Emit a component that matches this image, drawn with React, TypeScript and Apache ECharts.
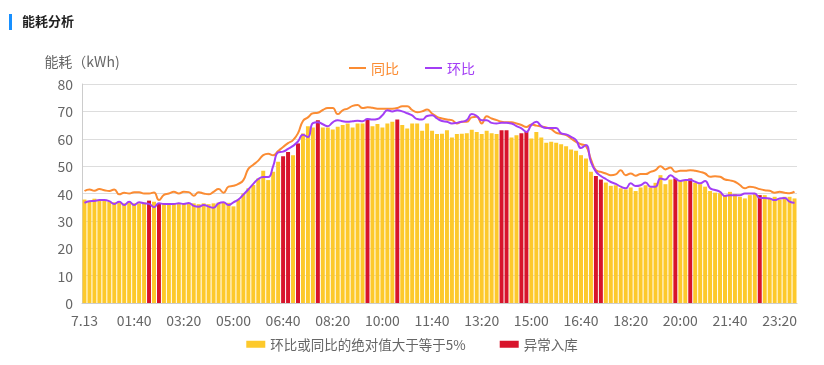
import React, { useEffect, useRef } from "react";
import * as echarts from "echarts";

const dateLabel = "7.13";
const categories: string[] = [];
for (let m = 0; m < 24 * 60; m += 10) {
  const h = String(Math.floor(m / 60)).padStart(2, "0");
  const mm = String(m % 60).padStart(2, "0");
  categories.push(m === 0 ? dateLabel : `${h}:${mm}`);
}

const energy = [
  37.8, 37.3, 38.1, 37.3, 37.3, 37.0, 36.8, 36.7, 36.4, 36.7,
  36.4, 36.4, 36.7, 37.4, 37.0, 36.5, 36.4, 36.4, 36.4, 36.4,
  36.4, 36.4, 36.4, 36.1, 36.4, 36.1, 36.4, 36.7, 36.7, 36.6,
  35.3, 37.8, 40.0, 41.9, 43.1, 45.5, 48.3, 44.9, 47.9, 51.6,
  53.6, 55.2, 54.0, 58.3, 61.9, 64.6, 64.1, 66.8, 64.1, 64.1,
  63.4, 64.4, 65.0, 65.6, 64.1, 65.6, 65.6, 67.0, 64.6, 65.4,
  64.1, 65.6, 66.2, 67.0, 65.0, 63.7, 65.6, 65.6, 62.9, 65.6,
  62.9, 61.7, 61.8, 63.1, 60.5, 61.7, 61.8, 62.0, 63.3, 62.5,
  61.7, 62.9, 62.0, 61.7, 63.1, 63.1, 60.5, 61.3, 62.0, 62.5,
  60.1, 62.5, 60.5, 58.5, 58.9, 58.5, 58.0, 57.3, 56.1, 55.6,
  54.0, 52.8, 47.9, 46.4, 45.1, 44.0, 42.8, 43.0, 41.9, 41.5,
  42.2, 40.9, 42.2, 43.0, 42.2, 43.9, 46.7, 43.4, 45.1, 45.5,
  44.6, 44.8, 45.5, 43.9, 43.4, 42.5, 40.9, 40.3, 40.1, 39.4,
  40.6, 39.8, 38.8, 38.2, 39.4, 39.8, 39.4, 39.4, 38.2, 38.8,
  37.8, 38.8, 38.8, 38.2,
];

const abnormalIdx = [13, 15, 40, 41, 43, 47, 57, 63, 84, 85, 88, 89, 103, 104, 119, 122, 136];

const yoy = [
  40.9, 41.5, 41.0, 41.6, 41.2, 40.9, 41.5, 39.7, 40.3, 40.0,
  40.5, 40.5, 40.0, 40.0, 40.4, 37.6, 39.5, 40.0, 40.6, 40.0,
  40.6, 40.5, 39.2, 40.5, 40.0, 39.7, 40.6, 41.6, 40.3, 42.5,
  42.8, 43.5, 44.9, 49.0, 50.5, 52.0, 54.0, 54.5, 54.0, 55.5,
  57.0, 58.4, 59.5, 62.0, 66.5, 67.8, 69.3, 69.5, 70.5, 71.2,
  71.2, 69.0, 70.4, 71.0, 72.0, 72.3, 71.2, 71.5, 71.3, 71.0,
  71.0, 71.0, 71.0, 71.2, 71.9, 71.9, 70.5, 69.7, 70.0, 70.7,
  69.2, 68.0, 67.4, 67.0, 66.8, 65.6, 66.2, 66.2, 67.8, 68.0,
  65.6, 68.2, 67.4, 66.8, 66.2, 66.0, 66.0, 65.6, 65.0, 64.3,
  65.2, 64.8, 64.5, 64.1, 63.5, 62.2, 61.8, 61.3, 60.1, 58.9,
  58.0, 57.3, 52.5, 48.5, 47.9, 47.3, 46.7, 47.0, 48.5, 46.7,
  47.3, 46.5, 47.1, 47.1, 47.9, 48.5, 50.0, 48.8, 49.5, 47.9,
  48.3, 48.3, 48.5, 48.3, 47.9, 47.3, 46.1, 46.3, 46.1, 45.1,
  44.8, 44.3, 43.1, 41.9, 42.5, 42.2, 41.6, 41.2, 41.0, 40.3,
  40.6, 40.3, 40.1, 40.7,
];

const mom = [
  36.6, 37.2, 37.3, 37.6, 37.6, 37.2, 36.2, 37.0, 35.8, 37.0,
  35.8, 36.8, 36.4, 36.2, 35.0, 36.4, 36.2, 36.2, 36.2, 36.4,
  36.2, 36.5, 35.5, 35.2, 35.8, 35.2, 34.8, 36.4, 36.8, 35.8,
  36.8, 37.8, 39.6, 41.5, 43.5, 45.3, 46.0, 46.0, 50.0, 55.0,
  55.3, 56.3, 57.4, 59.0, 61.5, 60.6, 65.7, 66.0, 65.3, 64.6,
  66.0, 66.8, 66.4, 66.2, 66.4, 66.6, 66.4, 67.2, 67.0, 67.2,
  68.6, 70.4, 70.0, 70.4, 70.0, 69.3, 68.5, 67.2, 67.0, 68.3,
  68.6, 67.4, 66.5, 66.2, 65.6, 65.8, 66.2, 66.8, 69.0, 68.3,
  66.8, 66.8, 65.8, 65.6, 65.8, 65.8, 65.6, 64.6, 63.8, 62.5,
  65.0, 66.2, 64.6, 63.9, 63.9, 63.9, 62.0, 61.6, 60.7, 59.5,
  56.6, 57.7, 51.5, 48.0, 46.4, 45.3, 44.2, 43.5, 42.5, 41.9,
  43.7, 42.7, 43.0, 44.0, 42.5, 42.5, 45.5, 45.1, 46.7, 45.5,
  44.6, 44.9, 44.9, 44.3, 43.7, 44.6, 41.9, 41.3, 40.6, 39.1,
  39.4, 39.4, 39.4, 40.0, 40.0, 40.0, 38.4, 38.4, 38.2, 37.6,
  38.2, 38.4, 37.0, 36.6,
];

const yTicks = { min: 0, max: 80, interval: 10 };

const seriesNames = {
  yoy: "同比",
  mom: "环比",
  over: "环比或同比的绝对值大于等于5%",
  abnormal: "异常入库",
};

const COLORS = {
  yoy: "#fb8c33",
  mom: "#a33ef5",
  over: "#fdc92b",
  abnormal: "#d8142b",
};

export default function App() {
  const ref = useRef<HTMLDivElement>(null);
  useEffect(() => {
    if (!ref.current) return;
    const chart = echarts.init(ref.current, null, { renderer: "svg" });
    const overData = energy.map((v, i) => (abnormalIdx.includes(i) ? "-" : v));
    const abnData = energy.map((v, i) => (abnormalIdx.includes(i) ? v : "-"));
    const textColor = "#666";
    chart.setOption({
      animation: false,
      textStyle: { fontFamily: "'Noto Sans CJK SC', 'Noto Sans', sans-serif" },
      graphic: [
        { type: "rect", left: 9, top: 14, shape: { width: 3, height: 16 }, style: { fill: "#1890ff" } },
        {
          type: "text",
          left: 22,
          top: 14,
          style: { text: "能耗分析", fontSize: 13, fontWeight: "bold", fill: "#222", fontFamily: "'Noto Sans CJK SC', sans-serif" },
        },
      ],
      legend: [
        {
          data: [
            { name: seriesNames.yoy, icon: "rect", textStyle: { color: COLORS.yoy } },
            { name: seriesNames.mom, icon: "rect", textStyle: { color: COLORS.mom } },
          ],
          top: 56,
          left: "center",
          itemWidth: 17,
          itemHeight: 2,
          itemGap: 26,
          textStyle: { fontSize: 14 },
          selectedMode: false,
        },
        {
          data: [
            { name: seriesNames.over, icon: "rect" },
            { name: seriesNames.abnormal, icon: "rect" },
          ],
          bottom: 9,
          left: "center",
          itemWidth: 19,
          itemHeight: 7,
          itemGap: 34,
          textStyle: { fontSize: 13.5, color: textColor },
          selectedMode: false,
        },
      ],
      grid: { left: 82, right: 27, top: 84, bottom: 62 },
      xAxis: {
        type: "category",
        data: categories,
        boundaryGap: true,
        axisLine: { lineStyle: { color: "#ccc" } },
        axisTick: { show: false },
        axisLabel: { interval: 9, color: textColor, fontSize: 14, margin: 10 },
      },
      yAxis: {
        type: "value",
        min: yTicks.min,
        max: yTicks.max,
        interval: yTicks.interval,
        name: "能耗（kWh)",
        nameGap: 16,
        nameTextStyle: { color: textColor, fontSize: 14 },
        axisLine: { show: true, lineStyle: { color: "#ccc" } },
        axisTick: { show: false },
        axisLabel: { color: textColor, fontSize: 14, margin: 9 },
        splitLine: { lineStyle: { color: "#ddd" } },
      },
      series: [
        {
          name: seriesNames.over,
          type: "bar",
          stack: "e",
          data: overData,
          barCategoryGap: "20%",
          itemStyle: { color: COLORS.over },
        },
        {
          name: seriesNames.abnormal,
          type: "bar",
          stack: "e",
          data: abnData,
          barCategoryGap: "20%",
          itemStyle: { color: COLORS.abnormal },
        },
        {
          name: seriesNames.yoy,
          type: "line",
          data: yoy,
          smooth: true,
          symbol: "none",
          lineStyle: { color: COLORS.yoy, width: 2 },
          itemStyle: { color: COLORS.yoy },
        },
        {
          name: seriesNames.mom,
          type: "line",
          data: mom,
          smooth: true,
          symbol: "none",
          lineStyle: { color: COLORS.mom, width: 2 },
          itemStyle: { color: COLORS.mom },
        },
      ],
    });
    return () => chart.dispose();
  }, []);
  return <div ref={ref} style={{ position: "fixed", left: 0, top: 0, width: 824, height: 365 }} />;
}
